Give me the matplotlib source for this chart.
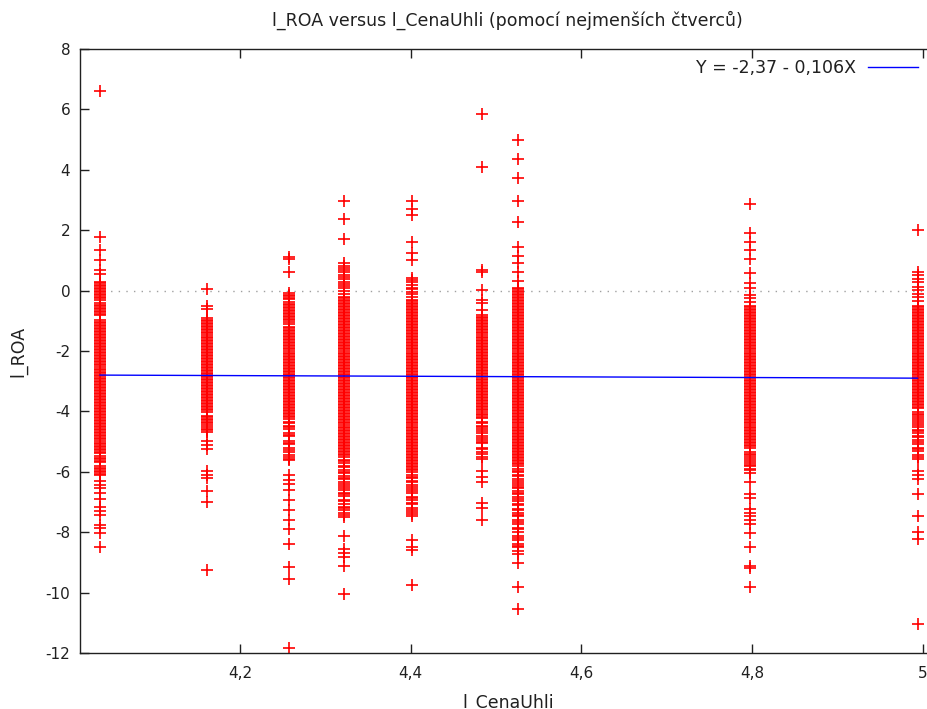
import matplotlib
matplotlib.use("Agg")
import matplotlib.pyplot as plt

plt.rcParams["font.family"] = "DejaVu Sans"
plt.rcParams["axes.unicode_minus"] = False

# =========================
# Data
# =========================
x_levels = [4.036, 4.161, 4.257, 4.322, 4.401, 4.484, 4.526, 4.798, 4.994]

c1 = [6.6, 1.78, 1.35, 1.02, 0.68, 0.55,
      0.3, 0.25, 0.2, 0.15, 0.1, 0.05, 0.0, -0.05, -0.1, -0.15, -0.2, -0.25, -0.3,
      -0.42, -0.47, -0.52, -0.57, -0.62, -0.67, -0.72, -0.77, -0.82,
      -0.98, -1.03, -1.08, -1.13, -1.18, -1.23, -1.28, -1.33, -1.38, -1.43,
      -1.48, -1.53, -1.58, -1.63, -1.68, -1.73, -1.78, -1.83, -1.88, -1.93,
      -1.98, -2.03, -2.08, -2.13, -2.18, -2.23, -2.28, -2.33, -2.38, -2.43,
      -2.48, -2.53, -2.58, -2.63, -2.68, -2.73, -2.78, -2.83, -2.88, -2.93,
      -2.98, -3.03, -3.08, -3.13, -3.18, -3.23, -3.28, -3.33, -3.38, -3.43,
      -3.48, -3.53, -3.58, -3.63, -3.68, -3.73, -3.78, -3.83, -3.88, -3.93,
      -3.98, -4.03, -4.08, -4.13, -4.18, -4.23, -4.28, -4.33, -4.38, -4.43,
      -4.48, -4.53, -4.58, -4.63, -4.68, -4.73, -4.78, -4.83, -4.88, -4.93,
      -4.98, -5.03, -5.08, -5.13, -5.18, -5.23, -5.28, -5.33, -5.38,
      -5.48, -5.53, -5.58, -5.63, -5.68, -5.82, -5.87, -5.92, -5.97, -6.02,
      -6.07, -6.11,
      -6.3, -6.45, -6.55, -6.7, -6.9, -7.15, -7.3, -7.44, -7.75, -7.86,
      -8.03, -8.48]

c2 = [0.05, -0.5, -0.62,
      -0.92, -0.97, -1.02, -1.07, -1.12, -1.17, -1.22, -1.27, -1.32, -1.37,
      -1.42, -1.47, -1.52, -1.57, -1.62, -1.67, -1.72, -1.77, -1.82, -1.87,
      -1.92, -1.97, -2.02, -2.07, -2.12, -2.17, -2.22, -2.27, -2.32, -2.37,
      -2.42, -2.47, -2.52, -2.57, -2.62, -2.67, -2.72, -2.77, -2.82, -2.87,
      -2.92, -2.97, -3.02, -3.07, -3.12, -3.17, -3.22, -3.27, -3.32, -3.37,
      -3.42, -3.47, -3.52, -3.57, -3.62, -3.67, -3.72, -3.77, -3.82, -3.87,
      -3.92, -3.97, -4.02,
      -4.15, -4.2, -4.25, -4.3, -4.35, -4.4, -4.45, -4.52, -4.57, -4.62,
      -4.68,
      -4.98, -5.12, -5.25, -5.98, -6.1, -6.2, -6.64, -7.0, -9.25]

c3 = [1.12, 1.06, 0.63,
      -0.08, -0.13, -0.18, -0.23, -0.28, -0.38, -0.43, -0.48, -0.53, -0.58,
      -0.63, -0.68, -0.73, -0.78, -0.83, -0.88, -0.93, -0.98, -1.03, -1.1,
      -1.2, -1.25, -1.3, -1.35, -1.4, -1.45, -1.5, -1.55, -1.6, -1.65,
      -1.7, -1.75, -1.8, -1.85, -1.9, -1.95, -2.0, -2.05, -2.1, -2.15,
      -2.2, -2.25, -2.3, -2.35, -2.4, -2.45, -2.5, -2.55, -2.6, -2.65,
      -2.7, -2.75, -2.8, -2.85, -2.9, -2.95, -3.0, -3.05, -3.1, -3.15,
      -3.2, -3.25, -3.3, -3.35, -3.4, -3.45, -3.5, -3.55, -3.6, -3.65,
      -3.7, -3.75, -3.8, -3.85, -3.9, -3.95, -4.0, -4.05, -4.1, -4.15,
      -4.2, -4.25,
      -4.35, -4.4, -4.48, -4.53, -4.58, -4.72, -4.77, -4.82, -4.98, -5.03,
      -5.08, -5.22, -5.27, -5.35, -5.45, -5.5, -5.56, -5.62,
      -6.09, -6.26, -6.42, -6.59, -6.92, -7.25, -7.58, -7.91, -8.39, -9.14,
      -9.55, -11.85]

c4 = [2.98, 2.38, 1.72,
      0.9, 0.82, 0.75, 0.68, 0.6, 0.52, 0.45, 0.38, 0.3, 0.22, 0.15, 0.08,
      0.0, -0.1,
      -0.2, -0.25, -0.3, -0.35, -0.4, -0.45, -0.5, -0.55, -0.6, -0.65,
      -0.7, -0.75, -0.8, -0.85, -0.9, -0.95, -1.0, -1.05, -1.1, -1.15,
      -1.2, -1.25, -1.3, -1.35, -1.4, -1.45, -1.5, -1.55, -1.6, -1.65,
      -1.7, -1.75, -1.8, -1.85, -1.9, -1.95, -2.0, -2.05, -2.1, -2.15,
      -2.2, -2.25, -2.3, -2.35, -2.4, -2.45, -2.5, -2.55, -2.6, -2.65,
      -2.7, -2.75, -2.8, -2.85, -2.9, -2.95, -3.0, -3.05, -3.1, -3.15,
      -3.2, -3.25, -3.3, -3.35, -3.4, -3.45, -3.5, -3.55, -3.6, -3.65,
      -3.7, -3.75, -3.8, -3.85, -3.9, -3.95, -4.0, -4.05, -4.1, -4.15,
      -4.2, -4.25, -4.3, -4.35, -4.4, -4.45, -4.5, -4.55, -4.6, -4.65,
      -4.7, -4.75, -4.8, -4.85, -4.9, -4.95, -5.0, -5.05, -5.1, -5.15,
      -5.2, -5.25, -5.3, -5.35, -5.4, -5.45, -5.5,
      -5.6, -5.65, -5.72, -5.8, -5.85, -5.95, -6.0, -6.05, -6.15, -6.2,
      -6.25, -6.35, -6.4, -6.48, -6.55, -6.6, -6.7, -6.75, -6.8, -6.92,
      -6.97, -7.05, -7.15, -7.2, -7.25, -7.35, -7.42, -7.5,
      -8.14, -8.55, -8.68, -8.82, -9.12, -10.05]

c5 = [2.98, 2.7, 2.5, 1.62, 1.24, 1.02,
      0.42, 0.35, 0.28, 0.18, 0.1, 0.05, -0.05, -0.12, -0.2,
      -0.3, -0.35, -0.4, -0.45, -0.5, -0.55, -0.6, -0.65, -0.7, -0.75,
      -0.8, -0.85, -0.9, -0.95, -1.0, -1.05, -1.1, -1.15, -1.2, -1.25,
      -1.3, -1.35, -1.4, -1.45, -1.5, -1.55, -1.6, -1.65, -1.7, -1.75,
      -1.8, -1.85, -1.9, -1.95, -2.0, -2.05, -2.1, -2.15, -2.2, -2.25,
      -2.3, -2.35, -2.4, -2.45, -2.5, -2.55, -2.6, -2.65, -2.7, -2.75,
      -2.8, -2.85, -2.9, -2.95, -3.0, -3.05, -3.1, -3.15, -3.2, -3.25,
      -3.3, -3.35, -3.4, -3.45, -3.5, -3.55, -3.6, -3.65, -3.7, -3.75,
      -3.8, -3.85, -3.9, -3.95, -4.0, -4.05, -4.1, -4.15, -4.2, -4.25,
      -4.3, -4.35, -4.4, -4.45, -4.5, -4.55, -4.6, -4.65, -4.7, -4.75,
      -4.8, -4.85, -4.9, -4.95, -5.0, -5.05, -5.1, -5.15, -5.2, -5.25,
      -5.3, -5.35, -5.4, -5.45, -5.5, -5.55, -5.6, -5.65, -5.7, -5.75,
      -5.8, -5.85, -5.9, -5.95, -6.0,
      -6.12, -6.17, -6.22, -6.3, -6.35, -6.45, -6.5, -6.58, -6.65, -6.7,
      -6.82, -6.87, -6.95, -7.02, -7.08, -7.2, -7.25, -7.32, -7.4, -7.48,
      -8.25, -8.5, -8.6, -9.75]

c6 = [5.85, 4.1, 0.68, 0.62, 0.02, -0.3, -0.42, -0.65,
      -0.82, -0.87, -0.92, -0.97, -1.02, -1.07, -1.12, -1.17, -1.22, -1.27,
      -1.32, -1.37, -1.42, -1.47, -1.52, -1.57, -1.62, -1.67, -1.72, -1.77,
      -1.82, -1.87, -1.92, -1.97, -2.02, -2.07, -2.12, -2.17, -2.22, -2.27,
      -2.32, -2.37, -2.42, -2.47, -2.52, -2.57, -2.62, -2.67, -2.72, -2.77,
      -2.82, -2.87, -2.92, -2.97, -3.02, -3.07, -3.12, -3.17, -3.22, -3.27,
      -3.32, -3.37, -3.42, -3.47, -3.52, -3.57, -3.62, -3.67, -3.72, -3.77,
      -3.82, -3.87, -3.92, -3.97, -4.02, -4.07, -4.12, -4.17, -4.22,
      -4.35, -4.4, -4.48, -4.53, -4.58, -4.65, -4.7, -4.82, -4.87, -4.95,
      -5.0, -5.05, -5.2, -5.25, -5.35, -5.42, -5.5, -5.58,
      -5.99, -6.16, -6.34, -7.03, -7.21, -7.6]

c7 = [4.98, 4.35, 3.72, 2.98, 2.28, 1.45, 1.15, 0.9, 0.62, 0.32,
      0.1, 0.05, 0.0, -0.05, -0.1, -0.15, -0.2, -0.25, -0.3, -0.35,
      -0.4, -0.45, -0.5, -0.55, -0.6, -0.65, -0.7, -0.75, -0.8, -0.85,
      -0.9, -0.95, -1.0, -1.05, -1.1, -1.15, -1.2, -1.25, -1.3, -1.35,
      -1.4, -1.45, -1.5, -1.55, -1.6, -1.65, -1.7, -1.75, -1.8, -1.85,
      -1.9, -1.95, -2.0, -2.05, -2.1, -2.15, -2.2, -2.25, -2.3, -2.35,
      -2.4, -2.45, -2.5, -2.55, -2.6, -2.65, -2.7, -2.75, -2.8, -2.85,
      -2.9, -2.95, -3.0, -3.05, -3.1, -3.15, -3.2, -3.25, -3.3, -3.35,
      -3.4, -3.45, -3.5, -3.55, -3.6, -3.65, -3.7, -3.75, -3.8, -3.85,
      -3.9, -3.95, -4.0, -4.05, -4.1, -4.15, -4.2, -4.25, -4.3, -4.35,
      -4.4, -4.45, -4.5, -4.55, -4.6, -4.65, -4.7, -4.75, -4.8, -4.85,
      -4.9, -4.95, -5.0, -5.05, -5.1, -5.15, -5.2, -5.25, -5.3, -5.35,
      -5.4, -5.45, -5.5, -5.55, -5.6, -5.65, -5.7, -5.75, -5.8,
      -5.92, -5.97, -6.02, -6.1, -6.15, -6.25, -6.3, -6.38, -6.45, -6.5,
      -6.55, -6.62, -6.7, -6.75, -6.85, -6.9, -6.98, -7.05, -7.1, -7.22,
      -7.28, -7.35, -7.42, -7.48, -7.6, -7.65, -7.72, -7.85, -7.9, -7.98,
      -8.12, -8.18, -8.25, -8.38, -8.45, -8.5, -8.62, -8.72,
      -9.02, -9.82, -10.55]

c8 = [2.88, 1.92, 1.6, 1.35, 1.05, 0.58, 0.26, 0.08, -0.15, -0.26, -0.38,
      -0.5, -0.55, -0.6, -0.65, -0.7, -0.75, -0.8, -0.85, -0.9, -0.95,
      -1.0, -1.05, -1.1, -1.15, -1.2, -1.25, -1.3, -1.35, -1.4, -1.45,
      -1.5, -1.55, -1.6, -1.65, -1.7, -1.75, -1.8, -1.85, -1.9, -1.95,
      -2.0, -2.05, -2.1, -2.15, -2.2, -2.25, -2.3, -2.35, -2.4, -2.45,
      -2.5, -2.55, -2.6, -2.65, -2.7, -2.75, -2.8, -2.85, -2.9, -2.95,
      -3.0, -3.05, -3.1, -3.15, -3.2, -3.25, -3.3, -3.35, -3.4, -3.45,
      -3.5, -3.55, -3.6, -3.65, -3.7, -3.75, -3.8, -3.85, -3.9, -3.95,
      -4.0, -4.05, -4.1, -4.15, -4.2, -4.25, -4.3, -4.35, -4.4, -4.45,
      -4.5, -4.55, -4.6, -4.65, -4.7, -4.75, -4.8, -4.85, -4.9, -4.95,
      -5.0, -5.05, -5.1, -5.15, -5.2,
      -5.35, -5.4, -5.45, -5.52, -5.58, -5.65, -5.7, -5.78, -5.82, -5.9,
      -5.95, -6.03,
      -6.35, -6.75, -6.88, -7.22, -7.35, -7.48, -7.6, -7.72, -8.02, -8.5,
      -9.12, -9.18, -9.8]

c9 = [2.02, 0.6, 0.5, 0.38, 0.28, 0.12, 0.02, -0.1, -0.22, -0.33,
      -0.5, -0.55, -0.6, -0.65, -0.7, -0.75, -0.8, -0.85, -0.9, -0.95,
      -1.0, -1.05, -1.1, -1.15, -1.2, -1.25, -1.3, -1.35, -1.4, -1.45,
      -1.5, -1.55, -1.6, -1.65, -1.7, -1.75, -1.8, -1.85, -1.9, -1.95,
      -2.0, -2.05, -2.1, -2.15, -2.2, -2.25, -2.3, -2.35, -2.4, -2.45,
      -2.5, -2.55, -2.6, -2.65, -2.7, -2.75, -2.8, -2.85, -2.9, -2.95,
      -3.0, -3.05, -3.1, -3.15, -3.2, -3.25, -3.3, -3.35, -3.4, -3.45,
      -3.5, -3.55, -3.6, -3.65, -3.7, -3.75, -3.8, -3.85, -3.9,
      -4.02, -4.07, -4.12, -4.2, -4.25, -4.32, -4.38, -4.45, -4.5, -4.6,
      -4.65, -4.72, -4.8, -4.85, -4.95, -5.0, -5.08, -5.2, -5.25, -5.32,
      -5.45, -5.5, -5.58,
      -5.98, -6.1, -6.25, -6.75, -7.45, -8.0, -8.22, -11.05]

columns = [c1, c2, c3, c4, c5, c6, c7, c8, c9]

# regression Y = -2,37 - 0,106X
intercept = -2.37
slope = -0.106

x_ticks = [4.2, 4.4, 4.6, 4.8, 5.0]
x_tick_labels = ["4,2", "4,4", "4,6", "4,8", "5"]
y_ticks = [-12, -10, -8, -6, -4, -2, 0, 2, 4, 6, 8]

# =========================
# Figure
# =========================
W, H = 928, 709
fig = plt.figure(figsize=(W / 100, H / 100), dpi=100)
left, right, top, bottom = 80, 937, 49, 653
ax = fig.add_axes([left / W, 1 - bottom / H, (right - left) / W, (bottom - top) / H])

ax.axhline(0, color="#a0a0a0", lw=1.0, ls=(0, (1, 4.5)), zorder=1)

for xv, ys in zip(x_levels, columns):
    ax.plot([xv] * len(ys), ys, "+", color="#ff0000", ms=8, mew=1.2,
            ls="none", zorder=2)

xl = [min(x_levels), max(x_levels)]
ax.plot(xl, [intercept + slope * v for v in xl], color="#0000ff", lw=1.0,
        zorder=3, label="Y = -2,37 - 0,106X")

ax.set_xlim(4.0125, 5.0168)
ax.set_ylim(-12, 8)
ax.set_xticks(x_ticks)
ax.set_xticklabels(x_tick_labels)
ax.set_yticks(y_ticks)

for s in ax.spines.values():
    s.set_linewidth(1.0)
    s.set_color("#202020")
ax.tick_params(direction="in", length=6.5, width=1.0, color="#202020",
               top=True, right=True, labelsize=11, labelcolor="#202020")
ax.tick_params(axis="x", pad=9)
ax.tick_params(axis="y", pad=7)

ax.legend(loc="upper right", bbox_to_anchor=(0.9778, 0.984), frameon=False,
          markerfirst=False, borderpad=0, borderaxespad=0, handlelength=2.9,
          handletextpad=0.65, fontsize=12.5, labelcolor="#202020")

fig.text(507 / W, 1 - 20 / H, "l_ROA versus l_CenaUhli (pomocí nejmenších čtverců)",
         ha="center", va="center", fontsize=12.5, color="#202020")
fig.text(18 / W, 1 - 351 / H, "l_ROA", rotation=90, ha="center", va="center",
         fontsize=12.5, color="#202020")
# underscore falls just below the bottom edge, as in the original
fig.text(508 / W, 1 - 708 / H, "l_CenaUhli", ha="center", va="baseline",
         fontsize=12.5, color="#202020")

fig.savefig("out.png", dpi=100)
